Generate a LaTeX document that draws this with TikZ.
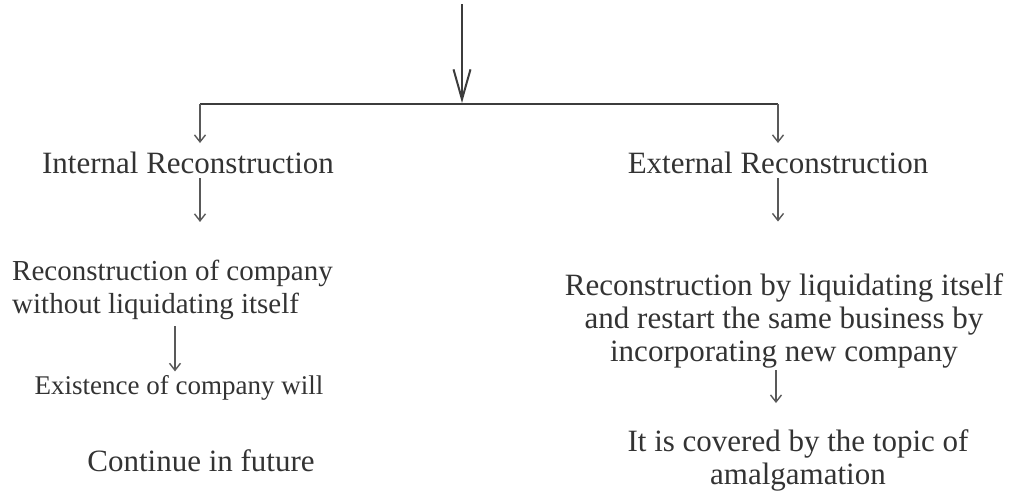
\documentclass[tikz,border=0pt]{standalone}
\usepackage{fontspec}
\setmainfont{Liberation Serif}
\usetikzlibrary{arrows.meta, positioning}
\definecolor{inkgray}{RGB}{51, 51, 51}
\definecolor{linegray}{RGB}{60, 60, 60}
\tikzset{
  stepnote/.style={text=inkgray, inner sep=2pt, font=\fontsize{#1}{33}\selectfont},
  stepnote/.default=31,
  mainarrow/.style={draw=linegray, line width=2pt, -{Straight Barb[length=30pt, width=17pt, line width=2pt]}},
  branchline/.style={draw=linegray, line width=2.5pt},
  droparrow/.style={draw=linegray!85, line width=1.4pt, -{Straight Barb[length=7pt, width=11pt, line width=1.4pt]}},
}

\begin{document}
\begin{tikzpicture}[x=1pt, y=-1pt]
\useasboundingbox (0,0) rectangle (1011,499);
% splitting arrow
\coordinate (top) at (462,4);
\coordinate (split) at (462,103);
\coordinate (lcorner) at (200,104);
\coordinate (rcorner) at (778,104);
% left branch
\node[stepnote] (internal) at (188,163) {Internal Reconstruction};
\node[stepnote=29, anchor=west, align=left] (nolq) at (10,290) {Reconstruction of company\\without liquidating itself};
\node[stepnote=27] (exist) at (179,388) {Existence of company will};
\node[stepnote] (cont) at (201,461) {Continue in future};
% right branch
\node[stepnote] (external) at (778,163) {External Reconstruction};
\node[stepnote, align=center] (liq) at (784,321) {Reconstruction by liquidating itself\\and restart the same business by\\incorporating new company};
\node[stepnote, align=center] (amalg) at (798,460) {It is covered by the topic of\\amalgamation};

\draw[mainarrow] (top) -- (split);
\draw[branchline] (lcorner) -- (rcorner);
\draw[droparrow] (lcorner) -- (lcorner |- 0,143);
\draw[droparrow] (rcorner) -- (rcorner |- 0,143);
\draw[droparrow, shorten <=2pt, shorten >=36pt] (internal.south -| lcorner) -- (nolq.north -| lcorner);
\draw[droparrow, shorten <=2pt, shorten >=50pt] (external.south -| rcorner) -- (liq.north -| rcorner);
\draw[droparrow, shorten <=4pt, shorten >=2pt] (nolq.south -| 175,0) -- (exist.north -| 175,0);
\draw[droparrow, shorten <=0pt, shorten >=24pt] (liq.south -| 776,0) -- (amalg.north -| 776,0);
\end{tikzpicture}
\end{document}
